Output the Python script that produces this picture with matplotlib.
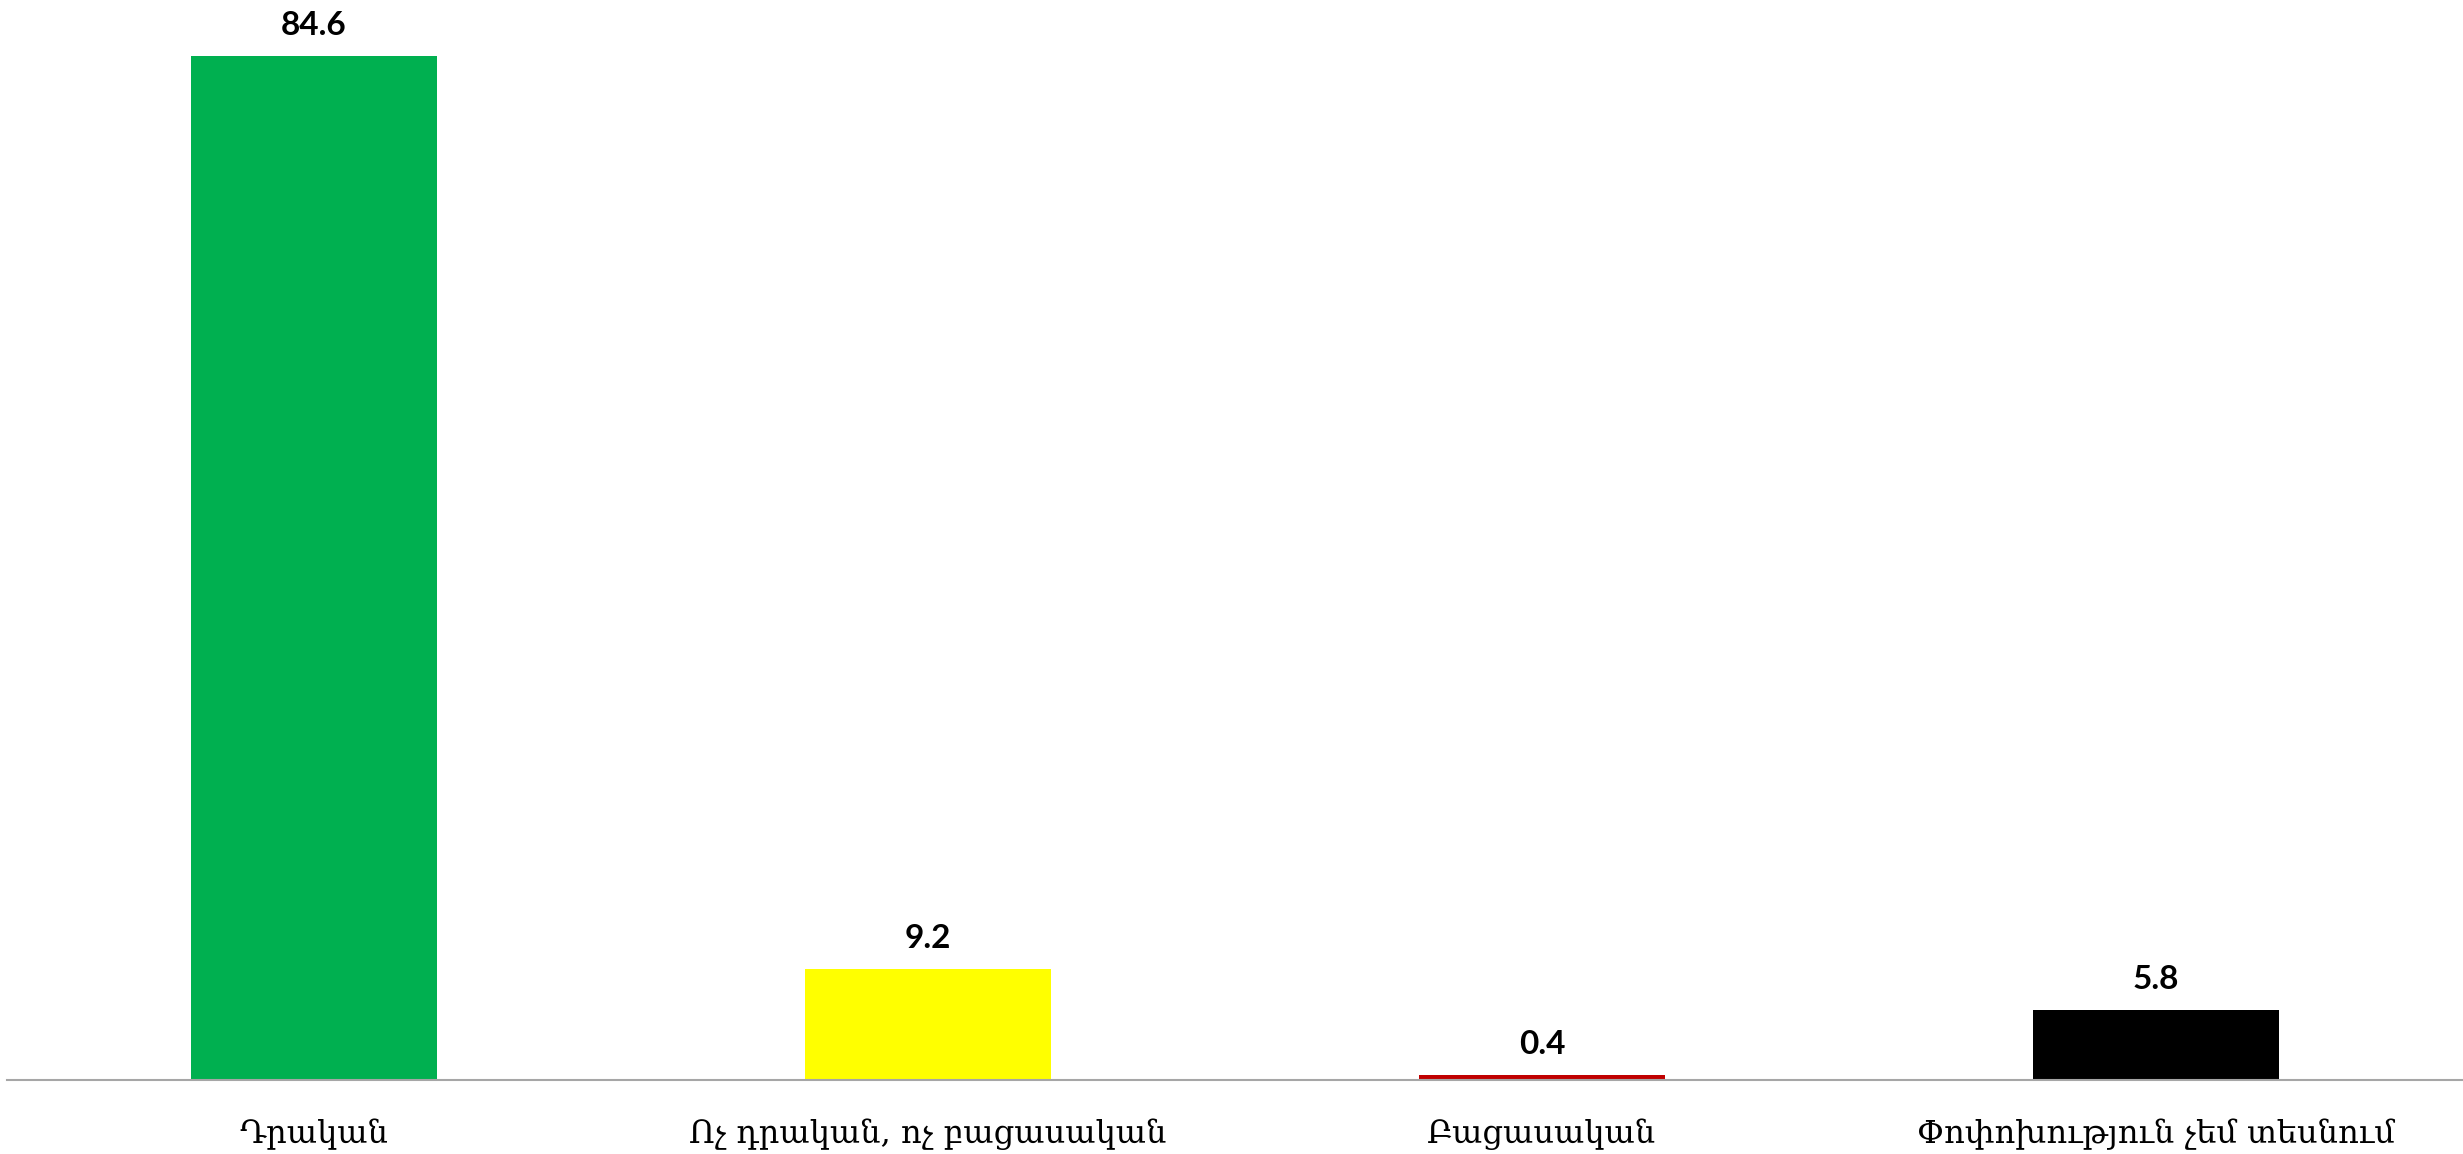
import matplotlib
matplotlib.use("Agg")
import matplotlib.pyplot as plt

categories = ["Դրական", "Ոչ դրական, ոչ բացասական", "Բացասական", "Փոփոխություն չեմ տեսնում"]
values = [84.6, 9.2, 0.4, 5.8]
colors = ["#00B050", "#FFFF00", "#C00000", "#000000"]

W, H = 2463, 1154
fig = plt.figure(figsize=(W / 100, H / 100), dpi=100)
ax = fig.add_axes([7 / W, 1 - 1080 / H, (W - 7) / W, 1080 / H])

x = range(len(categories))
ax.bar(x, values, width=0.4, color=colors, zorder=2)
ax.set_xlim(-0.5, len(categories) - 0.5)
ax.set_ylim(0, 89.25)

for xi, v in zip(x, values):
    ax.annotate(f"{v}", (xi, v), xytext=(0, 16), textcoords="offset pixels",
                ha="center", va="bottom", fontsize=24, fontweight="bold",
                family=["Lato", "DejaVu Sans"], color="black")

for s in ["top", "right", "left"]:
    ax.spines[s].set_visible(False)
ax.spines["bottom"].set_color("#A6A6A6")
ax.spines["bottom"].set_linewidth(1.5)
ax.set_yticks([])
ax.set_xticks(list(x))
ax.set_xticklabels(categories, fontsize=23, family=["DejaVu Serif", "DejaVu Sans"])
ax.tick_params(axis="x", length=0, pad=28)

fig.savefig("out.png", dpi=100)
